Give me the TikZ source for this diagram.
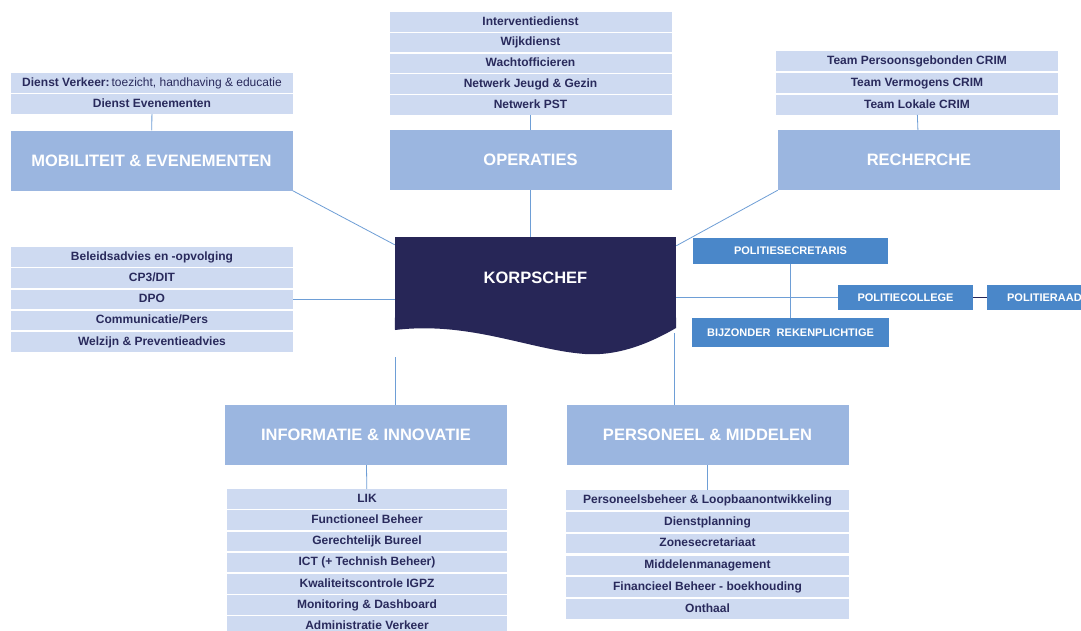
\documentclass[tikz,border=0pt]{standalone}
\usepackage{fontspec}
\setmainfont{Liberation Sans}
\usetikzlibrary{matrix,positioning}
\definecolor{korpsnavy}{HTML}{272657}
\definecolor{kopblauw}{HTML}{9BB6E0}
\definecolor{lijstblauw}{HTML}{CEDAF1}
\definecolor{lijsttekst}{HTML}{292A5C}
\definecolor{orgaanblauw}{HTML}{4A87C9}
\definecolor{lijnblauw}{HTML}{6E9ED6}

\begin{document}
\begin{tikzpicture} [x=1pt, y=-1pt,
    lijn/.style={draw=lijnblauw,line width=0.8pt},
    afdeling/.style={fill=kopblauw,text=white,inner sep=0pt,
      minimum width=282pt,minimum height=60pt,
      font=\bfseries\fontsize{16.5}{18}\selectfont},
    dienst/.style={fill=lijstblauw,text=lijsttekst,inner sep=0pt,
      minimum width=282pt,minimum height=19.5pt,
      text height=9pt,text depth=2.5pt,
      font=\bfseries\fontsize{12}{14}\selectfont},
    dienstlijst/.style={matrix of nodes,row sep=1.7pt,inner sep=0pt,
      anchor=north,nodes={dienst}},
    orgaan/.style={fill=orgaanblauw,text=white,inner sep=0pt,
      minimum height=26pt,font=\bfseries\fontsize{11}{13}\selectfont}
  ]
  \clip (0,0) rectangle (1081,630);
  \fill[white] (0,0) rectangle (1081,630);

  % afdelingen
  \node[afdeling] (mob) at (151.5,160.5) {MOBILITEIT \& EVENEMENTEN};
  \node[afdeling] (ops) at (530.5,160) {OPERATIES};
  \node[afdeling] (rech) at (919,160) {RECHERCHE};
  \node[afdeling] (info) at (366,435) {INFORMATIE \& INNOVATIE};
  \node[afdeling] (pers) at (707.5,435) {PERSONEEL \& MIDDELEN};

  % diensten
  \matrix (moblijst) [dienstlijst] at (152,73) {
    Dienst Verkeer:\,{\mdseries toezicht, handhaving \& educatie} \\
    Dienst Evenementen \\
  };
  \matrix (opslijst) [dienstlijst, row sep=1.2pt] at (530.5,12) {
    Interventiedienst \\
    Wijkdienst \\
    Wachtofficieren \\
    Netwerk Jeugd \& Gezin \\
    Netwerk PST \\
  };
  \matrix (rechlijst) [dienstlijst, row sep=2.5pt] at (917,51) {
    Team Persoonsgebonden CRIM \\
    Team Vermogens CRIM \\
    Team Lokale CRIM \\
  };
  \matrix (staf) [dienstlijst] at (152,247) {
    Beleidsadvies en -opvolging \\
    CP3/DIT \\
    DPO \\
    Communicatie/Pers \\
    Welzijn \& Preventieadvies \\
  };
  \matrix (infolijst) [dienstlijst, nodes={minimum width=280pt}] at (367,489) {
    LIK \\
    Functioneel  Beheer \\
    Gerechtelijk Bureel \\
    ICT (+ Technish Beheer) \\
    Kwaliteitscontrole IGPZ \\
    Monitoring \& Dashboard \\
    Administratie Verkeer \\
  };
  \matrix (perslijst) [dienstlijst, row sep=2.3pt, nodes={minimum width=283pt}] at (707.5,490) {
    Personeelsbeheer \& Loopbaanontwikkeling \\
    Dienstplanning \\
    Zonesecretariaat \\
    Middelenmanagement \\
    Financieel Beheer - boekhouding \\
    Onthaal \\
  };

  % korpschef
  \node[fill=korpsnavy,text=white,inner sep=0pt,minimum width=281pt,
    minimum height=81pt,font=\bfseries\fontsize{16.5}{18}\selectfont]
    (korps) at (535.5,277.5) {KORPSCHEF};
  \fill[korpsnavy] ([yshift=0.5pt]korps.south west) -- (395,330)
    .. controls (470,321) and (530,350) .. (585,354)
    .. controls (615,356) and (645,346) .. (676,328)
    -- ([yshift=0.5pt]korps.south east) -- cycle;
  \coordinate (korpsL) at (395,357);
  \coordinate (korpsR) at (674,333);

  % politieorganen
  \node[orgaan,minimum width=195pt] (secr) at (790.5,251) {POLITIESECRETARIS};
  \node[orgaan,minimum width=135pt,minimum height=25pt] (college) at (905.5,297.5) {POLITIECOLLEGE};
  \node[orgaan,minimum width=114pt,minimum height=25pt,right=14pt of college] (raad) {POLITIERAAD};
  \node[orgaan,minimum width=197pt,minimum height=29pt] (bijz) at (790.5,332.5) {BIJZONDER \ REKENPLICHTIGE};

  \path[lijn]
  (moblijst-2-1) edge (mob)
  (opslijst-5-1) edge (ops)
  (rechlijst-3-1) edge (rech)
  (info) edge (infolijst-1-1)
  (pers) edge (perslijst-1-1)
  (mob.south east) edge ([yshift=-8pt]korps.north west)
  (ops.south) edge (ops.south |- korps.north)
  (rech.south west) edge ([yshift=-9pt]korps.north east)
  (staf-3-1.east) edge (staf-3-1.east -| korps.west)
  (korpsL) edge (korpsL |- info.north)
  (korpsR) edge (korpsR |- pers.north)
  (korps.east |- college.west) edge (college.west)
  (secr) edge (bijz)
  ;
  \draw[korpsnavy,line width=0.8pt] (college) -- (raad);
\end{tikzpicture}
\end{document}
